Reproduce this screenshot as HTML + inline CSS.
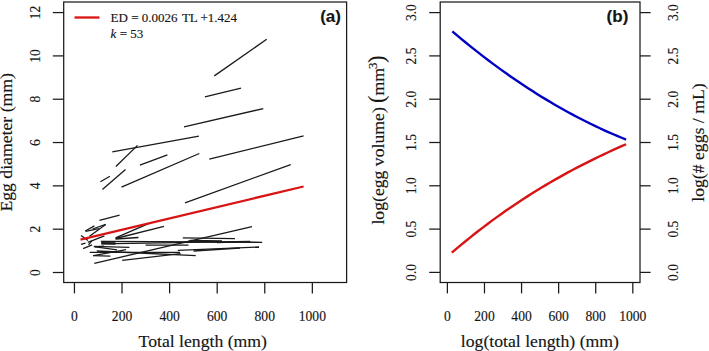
<!DOCTYPE html><html><head><meta charset="utf-8"><style>html,body{margin:0;padding:0;background:#fff;}svg{display:block}text{font-family:"Liberation Serif",serif;fill:#151515;stroke:#151515;stroke-width:0.15px}</style></head><body>
<svg width="709" height="351" viewBox="0 0 709 351">
<rect width="709" height="351" fill="#fff"/>
<rect x="63.7" y="2.0" width="282.9" height="280.5" fill="none" stroke="#1a1a1a" stroke-width="1.25"/>
<line x1="52.8" y1="272.50" x2="63.7" y2="272.50" stroke="#1a1a1a" stroke-width="1.25"/>
<text transform="translate(39.5,272.50) rotate(-90)" text-anchor="middle" font-size="13.6">0</text>
<line x1="52.8" y1="229.18" x2="63.7" y2="229.18" stroke="#1a1a1a" stroke-width="1.25"/>
<text transform="translate(39.5,229.18) rotate(-90)" text-anchor="middle" font-size="13.6">2</text>
<line x1="52.8" y1="185.86" x2="63.7" y2="185.86" stroke="#1a1a1a" stroke-width="1.25"/>
<text transform="translate(39.5,185.86) rotate(-90)" text-anchor="middle" font-size="13.6">4</text>
<line x1="52.8" y1="142.54" x2="63.7" y2="142.54" stroke="#1a1a1a" stroke-width="1.25"/>
<text transform="translate(39.5,142.54) rotate(-90)" text-anchor="middle" font-size="13.6">6</text>
<line x1="52.8" y1="99.22" x2="63.7" y2="99.22" stroke="#1a1a1a" stroke-width="1.25"/>
<text transform="translate(39.5,99.22) rotate(-90)" text-anchor="middle" font-size="13.6">8</text>
<line x1="52.8" y1="55.90" x2="63.7" y2="55.90" stroke="#1a1a1a" stroke-width="1.25"/>
<text transform="translate(39.5,55.90) rotate(-90)" text-anchor="middle" font-size="13.6">10</text>
<line x1="52.8" y1="12.58" x2="63.7" y2="12.58" stroke="#1a1a1a" stroke-width="1.25"/>
<text transform="translate(39.5,12.58) rotate(-90)" text-anchor="middle" font-size="13.6">12</text>
<line x1="74.45" y1="282.5" x2="74.45" y2="293.4" stroke="#1a1a1a" stroke-width="1.25"/>
<text x="74.45" y="320.5" text-anchor="middle" font-size="13.6">0</text>
<line x1="122.03" y1="282.5" x2="122.03" y2="293.4" stroke="#1a1a1a" stroke-width="1.25"/>
<text x="122.03" y="320.5" text-anchor="middle" font-size="13.6">200</text>
<line x1="169.61" y1="282.5" x2="169.61" y2="293.4" stroke="#1a1a1a" stroke-width="1.25"/>
<text x="169.61" y="320.5" text-anchor="middle" font-size="13.6">400</text>
<line x1="217.19" y1="282.5" x2="217.19" y2="293.4" stroke="#1a1a1a" stroke-width="1.25"/>
<text x="217.19" y="320.5" text-anchor="middle" font-size="13.6">600</text>
<line x1="264.77" y1="282.5" x2="264.77" y2="293.4" stroke="#1a1a1a" stroke-width="1.25"/>
<text x="264.77" y="320.5" text-anchor="middle" font-size="13.6">800</text>
<line x1="312.35" y1="282.5" x2="312.35" y2="293.4" stroke="#1a1a1a" stroke-width="1.25"/>
<text x="312.35" y="320.5" text-anchor="middle" font-size="13.6">1000</text>
<text x="202.8" y="347.3" text-anchor="middle" font-size="17.7">Total length (mm)</text>
<text transform="translate(11.9,142.3) rotate(-90)" text-anchor="middle" font-size="17.7">Egg diameter (mm)</text>
<g stroke="#1a1a1a" stroke-width="1.3" stroke-linecap="butt">
<line x1="214.3" y1="75.9" x2="266.7" y2="39.2"/>
<line x1="204.9" y1="96.8" x2="241.0" y2="88.2"/>
<line x1="184.0" y1="126.9" x2="263.3" y2="108.6"/>
<line x1="112.3" y1="151.9" x2="198.9" y2="136.2"/>
<line x1="121.5" y1="187.2" x2="199.3" y2="153.5"/>
<line x1="209.3" y1="159.2" x2="303.6" y2="135.9"/>
<line x1="115.9" y1="166.5" x2="137.5" y2="145.4"/>
<line x1="139.9" y1="165.1" x2="167.4" y2="154.9"/>
<line x1="100.4" y1="181.8" x2="109.9" y2="176.3"/>
<line x1="102.4" y1="189.4" x2="125.5" y2="169.5"/>
<line x1="185.0" y1="202.8" x2="290.7" y2="164.6"/>
<line x1="99.4" y1="220.3" x2="119.6" y2="215.1"/>
<line x1="85.3" y1="231.0" x2="94.4" y2="225.9"/>
<line x1="85.5" y1="231.4" x2="99.0" y2="228.6"/>
<line x1="92.5" y1="229.0" x2="105.7" y2="224.4"/>
<line x1="89.5" y1="236.3" x2="105.7" y2="224.4"/>
<line x1="81.0" y1="235.4" x2="88.0" y2="240.6"/>
<line x1="87.8" y1="242.3" x2="104.4" y2="235.9"/>
<line x1="81.0" y1="244.4" x2="85.5" y2="243.1"/>
<line x1="83.1" y1="248.7" x2="92.1" y2="244.8"/>
<line x1="115.6" y1="237.9" x2="148.5" y2="223.6"/>
<line x1="115.6" y1="238.5" x2="164.0" y2="226.3"/>
<line x1="115.6" y1="239.0" x2="138.5" y2="237.5"/>
<line x1="100.8" y1="241.4" x2="262.2" y2="242.3"/>
<line x1="101.3" y1="243.9" x2="250.0" y2="241.3"/>
<line x1="101.3" y1="241.6" x2="115.5" y2="241.6"/>
<line x1="101.3" y1="243.7" x2="115.5" y2="244.2"/>
<line x1="145.6" y1="245.2" x2="188.5" y2="245.2"/>
<line x1="182.8" y1="237.8" x2="235.0" y2="238.7"/>
<line x1="94.3" y1="263.3" x2="252.0" y2="226.6"/>
<line x1="93.9" y1="246.3" x2="129.4" y2="247.4"/>
<line x1="93.9" y1="246.6" x2="117.0" y2="249.8"/>
<line x1="93.5" y1="255.6" x2="126.0" y2="249.6"/>
<line x1="89.7" y1="252.3" x2="180.0" y2="252.4"/>
<line x1="96.8" y1="251.0" x2="195.7" y2="255.7"/>
<line x1="93.0" y1="255.7" x2="110.4" y2="256.1"/>
<line x1="122.2" y1="260.3" x2="180.6" y2="253.7"/>
<line x1="177.8" y1="250.4" x2="259.0" y2="247.0"/>
<line x1="193.5" y1="251.0" x2="240.0" y2="248.0"/>
<line x1="188.5" y1="241.0" x2="221.3" y2="241.8"/>
<line x1="95.0" y1="246.8" x2="104.1" y2="246.2"/>
<line x1="217.0" y1="242.7" x2="250.5" y2="241.7"/>
<line x1="190.0" y1="240.4" x2="222.0" y2="240.9"/>
<line x1="101.3" y1="242.6" x2="115.5" y2="242.9"/>
<line x1="88.6" y1="244.9" x2="91.9" y2="240.6"/>
</g>
<line x1="80.5" y1="239.6" x2="303.6" y2="186.5" stroke="#d81414" stroke-width="2.3"/>
<line x1="74.5" y1="17.5" x2="99.5" y2="17.5" stroke="#d81414" stroke-width="2.3"/>
<text x="110.6" y="21.9" font-size="13">ED = 0.0026</text><text x="181.9" y="21.9" font-size="13">TL +1.424</text>
<text x="110.6" y="37.6" font-size="13"><tspan font-style="italic">k</tspan> = 53</text>
<text x="320.2" y="22.2" font-size="17" font-weight="bold" style="font-family:'Liberation Sans',sans-serif">(a)</text>
<rect x="440.2" y="2.0" width="199.8" height="280.5" fill="none" stroke="#1a1a1a" stroke-width="1.25"/>
<line x1="429.2" y1="272.40" x2="440.2" y2="272.40" stroke="#1a1a1a" stroke-width="1.25"/>
<line x1="640.0" y1="272.40" x2="650.6" y2="272.40" stroke="#1a1a1a" stroke-width="1.25"/>
<text transform="translate(415.8,272.40) rotate(-90)" text-anchor="middle" font-size="13.6">0.0</text>
<text transform="translate(678.2,272.40) rotate(-90)" text-anchor="middle" font-size="13.6">0.0</text>
<line x1="429.2" y1="229.10" x2="440.2" y2="229.10" stroke="#1a1a1a" stroke-width="1.25"/>
<line x1="640.0" y1="229.10" x2="650.6" y2="229.10" stroke="#1a1a1a" stroke-width="1.25"/>
<text transform="translate(415.8,229.10) rotate(-90)" text-anchor="middle" font-size="13.6">0.5</text>
<text transform="translate(678.2,229.10) rotate(-90)" text-anchor="middle" font-size="13.6">0.5</text>
<line x1="429.2" y1="185.80" x2="440.2" y2="185.80" stroke="#1a1a1a" stroke-width="1.25"/>
<line x1="640.0" y1="185.80" x2="650.6" y2="185.80" stroke="#1a1a1a" stroke-width="1.25"/>
<text transform="translate(415.8,185.80) rotate(-90)" text-anchor="middle" font-size="13.6">1.0</text>
<text transform="translate(678.2,185.80) rotate(-90)" text-anchor="middle" font-size="13.6">1.0</text>
<line x1="429.2" y1="142.50" x2="440.2" y2="142.50" stroke="#1a1a1a" stroke-width="1.25"/>
<line x1="640.0" y1="142.50" x2="650.6" y2="142.50" stroke="#1a1a1a" stroke-width="1.25"/>
<text transform="translate(415.8,142.50) rotate(-90)" text-anchor="middle" font-size="13.6">1.5</text>
<text transform="translate(678.2,142.50) rotate(-90)" text-anchor="middle" font-size="13.6">1.5</text>
<line x1="429.2" y1="99.20" x2="440.2" y2="99.20" stroke="#1a1a1a" stroke-width="1.25"/>
<line x1="640.0" y1="99.20" x2="650.6" y2="99.20" stroke="#1a1a1a" stroke-width="1.25"/>
<text transform="translate(415.8,99.20) rotate(-90)" text-anchor="middle" font-size="13.6">2.0</text>
<text transform="translate(678.2,99.20) rotate(-90)" text-anchor="middle" font-size="13.6">2.0</text>
<line x1="429.2" y1="55.90" x2="440.2" y2="55.90" stroke="#1a1a1a" stroke-width="1.25"/>
<line x1="640.0" y1="55.90" x2="650.6" y2="55.90" stroke="#1a1a1a" stroke-width="1.25"/>
<text transform="translate(415.8,55.90) rotate(-90)" text-anchor="middle" font-size="13.6">2.5</text>
<text transform="translate(678.2,55.90) rotate(-90)" text-anchor="middle" font-size="13.6">2.5</text>
<line x1="429.2" y1="12.60" x2="440.2" y2="12.60" stroke="#1a1a1a" stroke-width="1.25"/>
<line x1="640.0" y1="12.60" x2="650.6" y2="12.60" stroke="#1a1a1a" stroke-width="1.25"/>
<text transform="translate(415.8,12.60) rotate(-90)" text-anchor="middle" font-size="13.6">3.0</text>
<text transform="translate(678.2,12.60) rotate(-90)" text-anchor="middle" font-size="13.6">3.0</text>
<line x1="447.40" y1="282.5" x2="447.40" y2="293.4" stroke="#1a1a1a" stroke-width="1.25"/>
<text x="447.40" y="320.5" text-anchor="middle" font-size="13.6">0</text>
<line x1="484.48" y1="282.5" x2="484.48" y2="293.4" stroke="#1a1a1a" stroke-width="1.25"/>
<text x="484.48" y="320.5" text-anchor="middle" font-size="13.6">200</text>
<line x1="521.56" y1="282.5" x2="521.56" y2="293.4" stroke="#1a1a1a" stroke-width="1.25"/>
<text x="521.56" y="320.5" text-anchor="middle" font-size="13.6">400</text>
<line x1="558.64" y1="282.5" x2="558.64" y2="293.4" stroke="#1a1a1a" stroke-width="1.25"/>
<text x="558.64" y="320.5" text-anchor="middle" font-size="13.6">600</text>
<line x1="595.72" y1="282.5" x2="595.72" y2="293.4" stroke="#1a1a1a" stroke-width="1.25"/>
<text x="595.72" y="320.5" text-anchor="middle" font-size="13.6">800</text>
<line x1="632.80" y1="282.5" x2="632.80" y2="293.4" stroke="#1a1a1a" stroke-width="1.25"/>
<text x="632.80" y="320.5" text-anchor="middle" font-size="13.6">1000</text>
<text x="539.9" y="347.3" text-anchor="middle" font-size="17.7">log(total length) (mm)</text>
<g transform="translate(384,224.3) rotate(-90)"><text x="-0.3" y="0" font-size="17.7">log(egg volume)</text><text x="121.4" y="0" font-size="22.5">(</text><text x="128.9" y="0" font-size="17.7">mm</text><text x="155.2" y="-7.1" font-size="13">3</text><text x="161.2" y="0" font-size="22.5">)</text></g>
<text transform="translate(703.9,142.6) rotate(-90)" text-anchor="middle" font-size="17.7">log(# eggs / mL)</text>
<polyline points="452.30,31.37 456.76,35.14 461.21,38.84 465.67,42.50 470.13,46.10 474.58,49.65 479.04,53.15 483.49,56.60 487.95,59.99 492.41,63.34 496.86,66.62 501.32,69.86 505.78,73.05 510.23,76.18 514.69,79.26 519.15,82.29 523.60,85.27 528.06,88.19 532.52,91.07 536.97,93.89 541.43,96.66 545.88,99.38 550.34,102.04 554.80,104.66 559.25,107.22 563.71,109.74 568.17,112.20 572.62,114.61 577.08,116.96 581.54,119.27 585.99,121.53 590.45,123.73 594.91,125.89 599.36,127.99 603.82,130.04 608.27,132.04 612.73,134.00 617.19,135.90 621.64,137.74 626.10,139.54" fill="none" stroke="#0000c4" stroke-width="2.4"/>
<polyline points="451.80,252.71 456.27,248.89 460.74,245.15 465.21,241.47 469.68,237.85 474.15,234.29 478.62,230.79 483.08,227.35 487.55,223.98 492.02,220.66 496.49,217.40 500.96,214.20 505.43,211.05 509.90,207.96 514.37,204.92 518.84,201.94 523.31,199.00 527.78,196.13 532.25,193.30 536.72,190.52 541.18,187.79 545.65,185.11 550.12,182.48 554.59,179.90 559.06,177.36 563.53,174.87 568.00,172.42 572.47,170.02 576.94,167.65 581.41,165.33 585.88,163.06 590.35,160.82 594.82,158.62 599.28,156.46 603.75,154.34 608.22,152.25 612.69,150.21 617.16,148.19 621.63,146.21 626.10,144.27" fill="none" stroke="#d81414" stroke-width="2.4"/>
<text x="606.6" y="22.2" font-size="17" font-weight="bold" style="font-family:'Liberation Sans',sans-serif">(b)</text>
</svg></body></html>
